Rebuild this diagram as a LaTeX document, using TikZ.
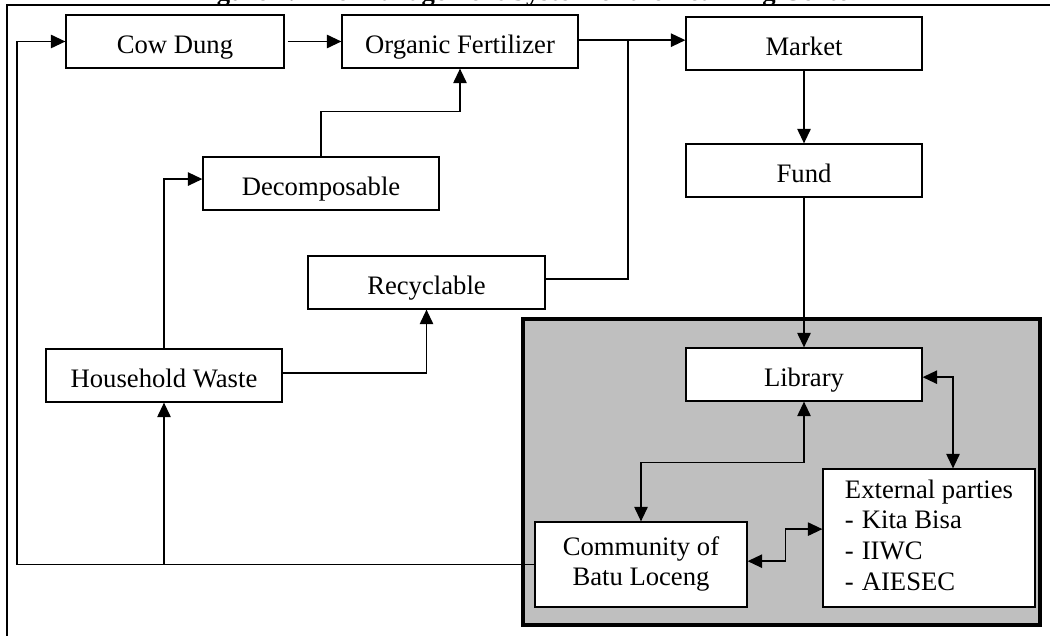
\documentclass[tikz,border=0pt]{standalone}
\usepackage{fontspec}
\setmainfont{Liberation Serif}
\usetikzlibrary{arrows.meta,calc}
\definecolor{panelgray}{RGB}{191,191,191}
\begin{document}
\begin{tikzpicture}[x=0.45pt,y=-0.45pt,
  box/.style={draw, line width=0.55pt, fill=white, inner sep=0pt,
    font=\fontsize{12}{13.8}\selectfont},
  onebox/.style={box, text height=10.4pt, text depth=0pt, minimum width=106.2pt, minimum height=23.85pt},
  arr/.style={line width=0.65pt, -{Triangle[length=6.5pt,width=6pt]}},
  darr/.style={line width=0.65pt, {Triangle[length=6.5pt,width=6pt]}-{Triangle[length=6.5pt,width=6pt]}},
  ln/.style={line width=0.65pt}]
\useasboundingbox (0,0) rectangle (1050,635);
\clip (0,0) rectangle (1050,635);
% title (cropped by the page edge)
\node[anchor=base, inner sep=0pt, outer sep=0pt, font=\fontsize{12}{14}\selectfont\bfseries] (title) at (527,0.5)
  {Figure 1. The Management System of the Learning Center};
% outer frame
\draw[line width=0.6pt] (7,660) -- (7,5) -- (1070,5);
% shaded panel
\node[draw, line width=2.2pt, fill=panelgray, inner sep=0pt, minimum width=517*0.45pt, minimum height=306*0.45pt] (panel) at (781.5,472) {};
% boxes
\node[onebox, minimum width=98.1pt] (cow) at (175,41.5) {Cow Dung};
\node[onebox] (of) at (460,41.5) {Organic Fertilizer};
\node[onebox] (market) at (804,43.5) {Market};
\node[onebox] (fund) at (804,170.5) {Fund};
\node[onebox] (dec) at (321,183.5) {Decomposable};
\node[onebox, minimum width=106.65pt] (rec) at (426.5,282.5) {Recyclable};
\node[onebox] (hw) at (164,375.5) {Household Waste};
\node[onebox] (lib) at (804,374.5) {Library};
\node[box, minimum width=95.4pt, minimum height=38.25pt] (com) at (641,564.5)
  {\raisebox{-1.2pt}{\begin{tabular}{@{}c@{}}Community of\\Batu Loceng\end{tabular}}};
\node[box, minimum width=95.4pt, minimum height=62.1pt] (ext) at (929,538)
  {\raisebox{-3.2pt}{\begin{tabular}{@{}l@{}}External parties\\-\hspace{3.6pt}Kita Bisa\\-\hspace{3.6pt}IIWC\\-\hspace{3.6pt}AIESEC\end{tabular}}};
% junction coordinates
\coordinate (loopx) at (17,0);
\coordinate (J) at (628,0);
% connectors
\draw[arr] (com.west) -- (com.west -| loopx) |- (cow.west);
\coordinate (branch) at (hw.south |- com.west);
\draw[arr] (branch) -- (hw.south);
\draw[arr, shorten <=1.3pt] (cow.east) -- (of.west);
\draw[arr] ([yshift=0.6pt]of.east) -- ([yshift=0.6pt]of.east -| market.west);
\draw[ln] ([yshift=1.5pt]rec.east) -| ([yshift=0.6pt]of.east -| J);
\draw[arr] (dec.north) -- ++(0,-45) -| (of.south);
\draw[arr] (hw.north) |- ([yshift=2pt]dec.west);
\draw[arr] ([yshift=1.1pt]hw.east) -| (rec.south);
\draw[arr] (market.south) -- (fund.north);
\draw[arr] (fund.south) -- (lib.north);
\draw[darr] (lib.south) -- ++(0,61) -| (com.north);
\draw[darr] ([yshift=-1.2pt]lib.east) -| ([xshift=10.8pt]ext.north);
\draw[darr] ([yshift=1.5pt]com.east) -- ++(38,0) |- ([yshift=4pt]ext.west);
\end{tikzpicture}
\end{document}
